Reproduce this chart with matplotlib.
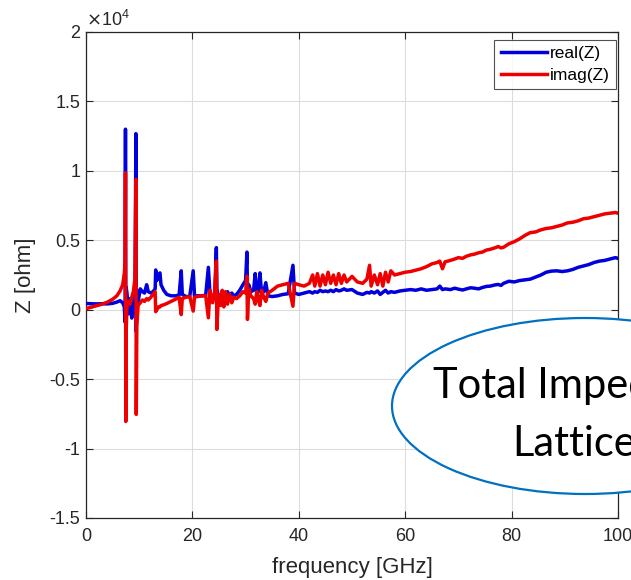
import matplotlib
matplotlib.use("Agg")
import matplotlib.pyplot as plt
from matplotlib.patches import Ellipse
from matplotlib.ticker import FuncFormatter

# ---- data (frequency in GHz, impedance in ohm) ----
freq_ghz = [
    0.0, 1.0, 2.0, 3.0, 4.0, 5.0, 5.8, 6.4, 6.9, 7.2, 7.35, 7.42, 7.48, 7.55, 7.7,
    8.0, 8.3, 8.6, 8.9, 9.2, 9.38, 9.45, 9.55, 9.8, 10.2, 10.6, 11.0, 11.4, 11.7,
    12.2, 12.6, 13.0, 13.1, 13.3, 13.6, 13.9, 14.1, 14.6, 15.2, 16.0, 16.8, 17.5,
    17.9, 18.1, 18.8, 19.5, 20.15, 20.4, 21.0, 21.8, 22.5, 23.0, 23.3, 23.8, 24.2,
    24.5, 24.6, 24.9, 25.3, 25.6, 25.9, 26.2, 26.6, 27.0, 27.4, 27.8, 28.3, 28.9,
    29.5, 30.0, 30.25, 30.35, 30.6, 31.0, 31.5, 31.8, 32.1, 32.4, 32.7, 33.0, 33.4,
    33.8, 34.2, 35.0, 36.0, 37.0, 38.0, 38.9, 39.2, 40.0, 41.0, 42.0, 42.6, 43.0,
    43.5, 44.0, 44.5, 45.0, 45.5, 46.0, 46.5, 47.0, 47.5, 48.0, 48.5, 49.0, 50.0,
    51.0, 52.0, 52.8, 53.3, 53.6, 54.2, 54.8, 55.3, 55.8, 56.3, 56.8, 57.3, 58.0,
    59.0, 60.0, 61.0, 62.0, 63.0, 64.0, 65.0, 66.0, 66.5, 67.0, 67.5, 68.5, 69.3,
    70.0, 70.8, 71.5, 72.3, 73.0, 73.8, 74.5, 75.3, 76.0, 76.8, 77.5, 78.0, 78.5,
    79.5, 80.5, 81.5, 82.5, 83.5, 84.5, 85.5, 86.5, 87.5, 88.5, 89.5, 90.5, 91.5,
    92.5, 93.5, 94.5, 95.5, 96.5, 97.5, 98.5, 99.5, 100.0,
]
z_real = [
    450, 430, 420, 430, 420, 460, 550, 650, 500, 200, -900, 13000, -1800, 1600, 1200,
    -300, 800, -600, 1000, -200, 12680, -1580, 1400, 600, 1500, 1300, 1200, 1800, 1300,
    1200, 1300, 1500, 2860, 2100, 2500, 2650, 1800, 1400, 1100, 1000, 1000, 1050,
    2800, 1100, 950, 950, 2800, 1000, 1000, 1000, 1050, 3050, 1200, 900, 1000,
    4470, 1500, 900, 1100, 900, 1200, 1000, 1300, 1000, 1200, 1000, 1100, 1400,
    1800, 2100, 4150, 1500, 1800, 1300, 1400, 2600, 1200, 1300, 2650, 1200, 1300,
    1950, 1000, 950, 1000, 1100, 1150, 3200, 1200, 1100, 1200, 1300, 1200, 1300,
    1250, 1400, 1300, 1350, 1300, 1400, 1300, 1450, 1350, 1400, 1500, 1400, 1450,
    1200, 1100, 1250, 1200, 1300, 1200, 1350, 1100, 1250, 1400, 1200, 1300, 1250,
    1350, 1400, 1450, 1400, 1500, 1400, 1450, 1500, 1700, 1450, 1500, 1450, 1550,
    1480, 1420, 1500, 1580, 1550, 1500, 1600, 1680, 1700, 1780, 1820, 1750, 1900,
    2050, 2000, 2100, 2150, 2200, 2350, 2500, 2700, 2780, 2800, 2750, 2800, 2900,
    3050, 3150, 3250, 3400, 3500, 3550, 3650, 3750, 3700,
]
z_imag = [
    80, 180, 290, 400, 540, 750, 1000, 1350, 1800, 2600, 3500, 9870, -8050, -1500, 200,
    600, 400, 900, 1300, 2200, 9390, -7540, -1200, 300, 500, 700, 600, 800, 700,
    900, 1100, 1300, -140, 0, 200, 200, 300, 350, 450, 600, 750, 900,
    -350, 800, 900, 950, -100, 900, 950, 1000, 1000, -580, 1400, 500, 1300,
    3500, -1420, 1100, 300, 1400, 200, 1300, 400, 1100, 500, 900, 800, 1000,
    1300, 1200, 2420, -700, 1500, 1000, 800, 400, 1300, 700, 300, 1400, 900,
    600, 1200, 1400, 1700, 1800, 1900, 250, 1900, 1800, 1700, 1900, 2500, 1700,
    2600, 1700, 2500, 1800, 2700, 1900, 2500, 1800, 2600, 1900, 2500, 2000, 2400,
    2000, 1900, 2200, 3200, 1700, 2500, 1800, 2600, 1700, 2700, 2000, 2800, 2500,
    2600, 2700, 2750, 2850, 2950, 3100, 3300, 3400, 3500, 2950, 3450, 3550, 3650,
    3750, 3700, 3850, 3950, 4000, 4100, 4150, 4300, 4350, 4450, 4550, 4450, 4500,
    4750, 4900, 5100, 5350, 5550, 5600, 5750, 5850, 5900, 6000, 6100, 6250, 6300,
    6400, 6550, 6600, 6700, 6800, 6900, 6950, 7000, 6950,
]
series_labels = ["real(Z)", "imag(Z)"]
x_ticks = [0, 20, 40, 60, 80, 100]
y_ticks = [-15000, -10000, -5000, 0, 5000, 10000, 15000, 20000]
callout_lines = ["Total Impedance", "Lattice"]

# ---- figure ----
fig = plt.figure(figsize=(6.31, 5.80), dpi=100)
ax = fig.add_axes([86 / 631, 1 - 518 / 580, (618 - 86) / 631, (518 - 32) / 580])

font = ["Liberation Sans", "DejaVu Sans"]
ink = "#262626"
ax.plot(freq_ghz, z_real, color="#0000dd", lw=2.5, label=series_labels[0], zorder=3)
ax.plot(freq_ghz, z_imag, color="#ee0000", lw=2.5, label=series_labels[1], zorder=4)

ax.set_xlim(0, 100)
ax.set_ylim(-15000, 20000)
ax.set_xticks(x_ticks)
ax.set_yticks(y_ticks)
ax.yaxis.set_major_formatter(FuncFormatter(lambda v, p: f"{v / 1e4:g}"))
ax.grid(True, color="#dcdcdc", lw=0.8)
ax.set_axisbelow(True)
ax.tick_params(direction="in", top=True, right=True, length=5, width=0.8,
               colors=ink, labelsize=13)
ax.tick_params(axis="x", pad=7)
ax.tick_params(axis="y", pad=4)
for lab in ax.get_xticklabels() + ax.get_yticklabels():
    lab.set_fontfamily(font)
    lab.set_color(ink)
for s in ax.spines.values():
    s.set_color(ink)
    s.set_linewidth(0.9)

ax.set_xlabel("frequency [GHz]", fontsize=16, family=font, color=ink, labelpad=9)
ax.set_ylabel("Z [ohm]", fontsize=16, family=font, color=ink, labelpad=10)
ax.text(0.0, 1.004, r"$\times\mathregular{10^{4}}$", transform=ax.transAxes,
        fontsize=13, family=font, color=ink, ha="left", va="bottom")

leg = ax.legend(loc="upper right", bbox_to_anchor=((616 - 86) / 532, (518 - 40) / 486),
                prop={"family": font, "size": 12.5}, borderaxespad=0.0,
                frameon=True, fancybox=False, handlelength=2.7,
                handletextpad=0.15, borderpad=0.35, labelspacing=0.4)
leg.get_frame().set_edgecolor(ink)
leg.get_frame().set_linewidth(0.8)

# ---- overlay callout ----
ell = Ellipse((585 / 631, 1 - 406 / 580), 386 / 631, 176 / 580,
              transform=fig.transFigure, facecolor="white", edgecolor="#0070c0",
              lw=1.6, zorder=10)
fig.add_artist(ell)
fig.text(433 / 631, 1 - 398 / 580, callout_lines[0], transform=fig.transFigure,
         ha="left", va="baseline", fontsize=30,
         family=["Lato", "DejaVu Sans"], color="black", zorder=11)
fig.text(512 / 631, 1 - 456 / 580, callout_lines[1], transform=fig.transFigure,
         ha="left", va="baseline", fontsize=30,
         family=["Lato", "DejaVu Sans"], color="black", zorder=11)

fig.savefig("out.png", dpi=100)
